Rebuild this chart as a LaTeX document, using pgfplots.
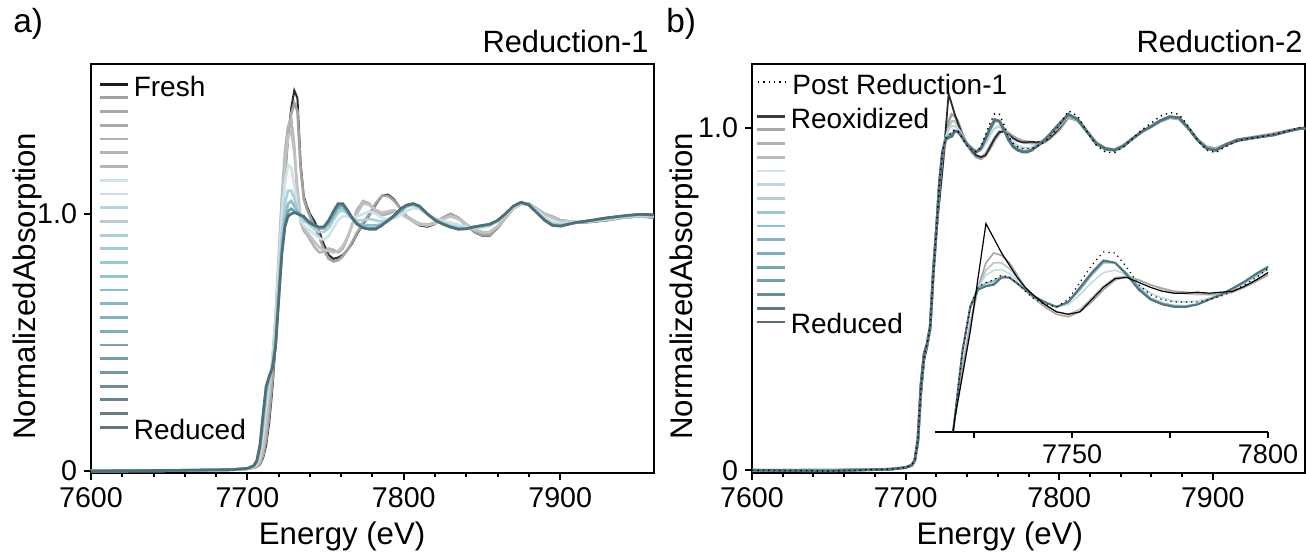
\documentclass[border=0pt]{standalone}
\usepackage{fontspec}
\setmainfont{Liberation Sans}
\usepackage{pgfplots}
\usepackage{pgfplotstable}
\pgfplotsset{compat=1.18}

% curve colours
\definecolor{cA1}{HTML}{2B2B2B}
\definecolor{cA2}{HTML}{A2A2A2}
\definecolor{cA3}{HTML}{B4B4B4}
\definecolor{cA4}{HTML}{C2C2C2}
\definecolor{cA5}{HTML}{CFE3E8}
\definecolor{cA6}{HTML}{AAD2DB}
\definecolor{cA7}{HTML}{8DBFCB}
\definecolor{cA8}{HTML}{6C9DA9}
\definecolor{cA9}{HTML}{4F6E77}
\definecolor{cB1}{HTML}{2B2B2B}
\definecolor{cB2}{HTML}{A6A6A6}
\definecolor{cB3}{HTML}{C2C2C2}
\definecolor{cB4}{HTML}{C0DBE2}
\definecolor{cB5}{HTML}{86B8C4}
\definecolor{cB6}{HTML}{5F93A0}
\definecolor{cB7}{HTML}{56737B}
% legend colours panel a
\definecolor{la1}{HTML}{1E1E1E}
\definecolor{la2}{HTML}{A3A3A3}
\definecolor{la3}{HTML}{A8A8A8}
\definecolor{la4}{HTML}{AAAAAA}
\definecolor{la5}{HTML}{B0B0B0}
\definecolor{la6}{HTML}{B2B2B2}
\definecolor{la7}{HTML}{B5B5B5}
\definecolor{la8}{HTML}{D2E2E6}
\definecolor{la9}{HTML}{CDDDE2}
\definecolor{la10}{HTML}{B3D5DD}
\definecolor{la11}{HTML}{B8CDD2}
\definecolor{la12}{HTML}{A9CFD8}
\definecolor{la13}{HTML}{A2CBD5}
\definecolor{la14}{HTML}{9BC7D1}
\definecolor{la15}{HTML}{94C2CD}
\definecolor{la16}{HTML}{8DBDC9}
\definecolor{la17}{HTML}{86B8C4}
\definecolor{la18}{HTML}{81B2BF}
\definecolor{la19}{HTML}{7EACB9}
\definecolor{la20}{HTML}{7BA5B1}
\definecolor{la21}{HTML}{799EA9}
\definecolor{la22}{HTML}{7696A0}
\definecolor{la23}{HTML}{718C95}
\definecolor{la24}{HTML}{6C848C}
\definecolor{la25}{HTML}{687C83}
\definecolor{la26}{HTML}{66757B}
% legend colours panel b
\definecolor{lb1}{HTML}{3A3A3A}
\definecolor{lb2}{HTML}{A9A9A9}
\definecolor{lb3}{HTML}{B0B0B0}
\definecolor{lb4}{HTML}{BABABA}
\definecolor{lb5}{HTML}{D3E4E8}
\definecolor{lb6}{HTML}{B9D8DF}
\definecolor{lb7}{HTML}{B7CDD2}
\definecolor{lb8}{HTML}{9EC8D2}
\definecolor{lb9}{HTML}{90C0CB}
\definecolor{lb10}{HTML}{82B6C3}
\definecolor{lb11}{HTML}{7AAFBC}
\definecolor{lb12}{HTML}{76A7B4}
\definecolor{lb13}{HTML}{72A0AC}
\definecolor{lb14}{HTML}{6A8E98}
\definecolor{lb15}{HTML}{5F7A82}
\definecolor{lb16}{HTML}{5B6B70}

\pgfplotstableread{
x o1 o1b o2 o2b p1 p2 b1 t1 red
7600 0 0 0 0 0 0 0 0 0
7650 0.002 0.001 0.002 0.001 0.002 0.001 0.002 0.001 0.002
7690 0.004 0.004 0.004 0.004 0.005 0.005 0.005 0.005 0.005
7700 0.008 0.008 0.009 0.009 0.01 0.01 0.01 0.01 0.01
7704 0.012 0.012 0.013 0.014 0.016 0.018 0.019 0.02 0.02
7706 0.016 0.017 0.02 0.022 0.026 0.03 0.035 0.038 0.04
7708 0.025 0.028 0.035 0.04 0.06 0.075 0.085 0.095 0.10
7710 0.05 0.06 0.08 0.09 0.14 0.17 0.19 0.21 0.22
7712 0.10 0.12 0.17 0.19 0.25 0.29 0.31 0.325 0.33
7714 0.19 0.22 0.30 0.31 0.35 0.355 0.36 0.365 0.37
7716 0.32 0.35 0.43 0.43 0.43 0.415 0.405 0.40 0.40
7718 0.49 0.52 0.60 0.59 0.57 0.53 0.50 0.485 0.48
7720 0.71 0.74 0.83 0.81 0.79 0.73 0.69 0.67 0.66
7722 0.94 0.97 1.06 1.03 0.99 0.92 0.87 0.85 0.84
7724 1.14 1.16 1.24 1.20 1.12 1.04 0.98 0.96 0.95
7726 1.30 1.30 1.34 1.30 1.19 1.09 1.04 1.01 0.99
7728 1.41 1.39 1.37 1.32 1.18 1.09 1.05 1.02 1.0
7730 1.48 1.43 1.26 1.24 1.11 1.06 1.03 1.01 1.005
7732 1.45 1.40 1.07 1.10 1.03 1.02 1.01 1.005 1.0
7734 1.20 1.18 0.97 0.99 0.975 0.99 0.995 0.995 0.995
7736 1.07 1.06 0.935 0.95 0.955 0.975 0.985 0.99 0.99
7738 1.03 1.02 0.92 0.93 0.945 0.965 0.975 0.978 0.975
7740 1.0 0.99 0.90 0.915 0.935 0.955 0.965 0.968 0.965
7743 0.97 0.95 0.87 0.89 0.92 0.94 0.952 0.956 0.955
7746 0.93 0.91 0.85 0.87 0.905 0.93 0.943 0.948 0.948
7749 0.88 0.86 0.855 0.86 0.90 0.93 0.943 0.948 0.95
7752 0.84 0.825 0.865 0.855 0.915 0.945 0.96 0.97 0.975
7755 0.825 0.815 0.86 0.85 0.945 0.975 0.99 1.0 1.01
7758 0.83 0.82 0.85 0.855 0.975 1.005 1.02 1.03 1.04
7761 0.84 0.835 0.865 0.875 0.99 1.015 1.025 1.035 1.04
7764 0.86 0.86 0.905 0.91 0.99 1.0 1.005 1.01 1.015
7767 0.885 0.89 0.96 0.955 0.985 0.985 0.982 0.982 0.985
7770 0.92 0.925 1.015 1.0 0.99 0.975 0.965 0.962 0.96
7774 0.96 0.965 1.05 1.04 1.0 0.975 0.955 0.948 0.945
7778 0.995 1.0 1.04 1.035 1.01 0.98 0.955 0.944 0.94
7782 1.035 1.04 1.01 1.015 1.0 0.975 0.955 0.945 0.94
7786 1.07 1.07 0.995 1.005 0.985 0.97 0.96 0.957 0.955
7790 1.075 1.07 1.0 1.01 0.978 0.975 0.972 0.974 0.975
7794 1.055 1.05 1.01 1.015 0.982 0.99 0.99 0.993 0.995
7798 1.02 1.02 1.005 1.0 0.995 1.01 1.012 1.016 1.02
7802 0.99 0.99 0.99 0.985 1.012 1.028 1.03 1.033 1.035
7806 0.97 0.97 0.975 0.97 1.022 1.034 1.037 1.039 1.04
7810 0.955 0.958 0.962 0.96 1.018 1.025 1.028 1.03 1.03
7815 0.95 0.955 0.958 0.955 1.0 1.0 1.0 1.0 1.0
7820 0.96 0.965 0.965 0.962 0.982 0.98 0.978 0.977 0.975
7825 0.985 0.985 0.982 0.98 0.972 0.965 0.962 0.961 0.96
7830 1.0 0.998 0.995 0.99 0.966 0.955 0.951 0.949 0.948
7835 0.985 0.982 0.985 0.98 0.958 0.948 0.943 0.941 0.94
7840 0.955 0.955 0.96 0.958 0.95 0.945 0.943 0.942 0.942
7845 0.93 0.932 0.94 0.938 0.945 0.947 0.948 0.949 0.95
7850 0.915 0.918 0.928 0.93 0.945 0.951 0.953 0.954 0.955
7855 0.915 0.918 0.928 0.93 0.952 0.957 0.958 0.959 0.96
7860 0.945 0.945 0.95 0.952 0.97 0.972 0.973 0.974 0.975
7865 0.985 0.985 0.985 0.988 0.995 0.998 0.999 1.0 1.0
7870 1.02 1.02 1.02 1.02 1.025 1.028 1.029 1.03 1.03
7875 1.04 1.038 1.04 1.04 1.04 1.043 1.044 1.045 1.045
7880 1.04 1.038 1.038 1.036 1.035 1.035 1.035 1.035 1.035
7885 1.02 1.02 1.02 1.018 1.012 1.008 1.006 1.005 1.005
7890 1.0 1.0 1.0 0.998 0.988 0.98 0.978 0.976 0.975
7895 0.99 0.988 0.99 0.985 0.972 0.962 0.958 0.956 0.955
7900 0.975 0.975 0.975 0.972 0.965 0.958 0.955 0.953 0.952
7910 0.965 0.967 0.968 0.968 0.967 0.966 0.966 0.966 0.966
7920 0.968 0.97 0.97 0.972 0.972 0.973 0.974 0.975 0.975
7930 0.975 0.976 0.977 0.978 0.98 0.982 0.983 0.984 0.985
7940 0.985 0.985 0.985 0.986 0.988 0.99 0.991 0.992 0.992
7950 0.99 0.99 0.99 0.992 0.994 0.996 0.997 0.998 0.998
7960 0.985 0.987 0.988 0.99 0.992 0.994 0.995 0.996 0.997
}\tabA

\pgfplotstableread{
x post reox g1 g2 p1 t1 t2 red
7600 0 0 0 0 0 0 0 0
7650 -0.002 0.0 0.001 0.0 -0.001 0.0 -0.002 -0.002
7690 0.003 0.003 0.003 0.003 0.003 0.003 0.003 0.003
7700 0.008 0.008 0.008 0.008 0.008 0.008 0.008 0.008
7704 0.015 0.014 0.014 0.014 0.015 0.015 0.015 0.015
7706 0.03 0.028 0.028 0.028 0.03 0.03 0.03 0.03
7708 0.09 0.08 0.08 0.082 0.088 0.09 0.09 0.09
7710 0.24 0.22 0.23 0.232 0.245 0.25 0.25 0.25
7712 0.33 0.32 0.33 0.33 0.335 0.34 0.34 0.34
7714 0.37 0.36 0.365 0.365 0.368 0.37 0.37 0.37
7716 0.42 0.41 0.415 0.415 0.418 0.42 0.42 0.42
7718 0.57 0.57 0.57 0.57 0.575 0.58 0.58 0.58
7720 0.70 0.70 0.70 0.70 0.705 0.70 0.70 0.70
7722 0.84 0.79 0.80 0.81 0.835 0.84 0.84 0.84
7724 0.93 0.88 0.89 0.90 0.925 0.932 0.93 0.93
7726 0.97 0.99 0.97 0.97 0.97 0.97 0.966 0.965
7728 0.98 1.10 1.02 1.005 0.995 0.978 0.973 0.972
7730 0.985 1.07 1.04 1.02 1.005 0.983 0.977 0.975
7732 0.995 1.04 1.035 1.02 1.006 0.992 0.99 0.99
7734 0.99 1.015 1.02 1.008 0.998 0.99 0.99 0.99
7736 0.978 0.99 0.995 0.99 0.985 0.978 0.978 0.978
7738 0.962 0.97 0.97 0.97 0.968 0.965 0.965 0.965
7740 0.948 0.955 0.95 0.953 0.955 0.953 0.952 0.952
7743 0.935 0.935 0.93 0.935 0.94 0.94 0.94 0.94
7746 0.93 0.92 0.915 0.92 0.93 0.93 0.93 0.93
7749 0.945 0.915 0.91 0.915 0.935 0.94 0.94 0.94
7752 0.98 0.92 0.92 0.925 0.955 0.965 0.968 0.97
7755 1.015 0.945 0.94 0.948 0.98 0.995 0.998 1.0
7758 1.042 0.97 0.965 0.972 1.0 1.02 1.024 1.025
7761 1.04 0.988 0.985 0.99 1.005 1.02 1.02 1.02
7764 1.01 0.99 0.992 0.993 0.995 0.998 0.996 0.995
7767 0.975 0.98 0.985 0.985 0.975 0.97 0.967 0.965
7770 0.955 0.97 0.975 0.975 0.958 0.948 0.946 0.945
7773 0.945 0.962 0.968 0.966 0.948 0.938 0.936 0.935
7776 0.94 0.958 0.962 0.96 0.942 0.933 0.931 0.93
7779 0.94 0.958 0.96 0.957 0.94 0.932 0.93 0.93
7782 0.94 0.96 0.958 0.955 0.942 0.936 0.935 0.935
7785 0.945 0.958 0.955 0.955 0.948 0.946 0.945 0.945
7788 0.952 0.96 0.955 0.957 0.956 0.955 0.955 0.955
7791 0.962 0.962 0.96 0.962 0.966 0.967 0.968 0.968
7794 0.975 0.972 0.97 0.972 0.978 0.98 0.981 0.982
7797 0.99 0.985 0.982 0.985 0.992 0.995 0.997 0.998
7800 1.008 1.0 0.995 0.998 1.006 1.009 1.011 1.012
7806 1.05 1.035 1.03 1.032 1.036 1.038 1.04 1.04
7812 1.035 1.025 1.022 1.022 1.024 1.025 1.025 1.025
7818 0.99 0.99 0.99 0.99 0.99 0.99 0.99 0.99
7824 0.95 0.955 0.958 0.957 0.956 0.955 0.955 0.955
7830 0.93 0.937 0.94 0.94 0.94 0.94 0.94 0.94
7836 0.928 0.935 0.937 0.937 0.936 0.935 0.935 0.935
7842 0.945 0.948 0.95 0.95 0.949 0.948 0.948 0.948
7848 0.97 0.97 0.97 0.97 0.97 0.97 0.97 0.97
7854 0.995 0.99 0.99 0.99 0.99 0.99 0.99 0.99
7860 1.015 1.005 1.004 1.005 1.005 1.005 1.005 1.005
7866 1.035 1.02 1.02 1.02 1.021 1.022 1.022 1.022
7872 1.045 1.03 1.03 1.03 1.031 1.032 1.033 1.033
7878 1.04 1.028 1.026 1.027 1.028 1.029 1.03 1.03
7884 1.005 1.0 1.0 1.0 1.0 1.0 1.0 1.0
7890 0.965 0.965 0.967 0.966 0.966 0.965 0.965 0.965
7896 0.935 0.942 0.945 0.944 0.942 0.941 0.94 0.94
7902 0.928 0.935 0.94 0.938 0.936 0.935 0.935 0.935
7908 0.945 0.948 0.952 0.95 0.95 0.95 0.95 0.95
7916 0.962 0.962 0.966 0.965 0.965 0.965 0.965 0.965
7924 0.97 0.968 0.972 0.97 0.97 0.97 0.97 0.97
7932 0.975 0.974 0.978 0.976 0.975 0.975 0.975 0.975
7940 0.982 0.98 0.984 0.982 0.981 0.98 0.98 0.98
7948 0.99 0.99 0.992 0.99 0.99 0.99 0.99 0.99
7956 1.0 0.998 0.998 0.998 0.998 0.998 0.998 0.998
7960 1.005 1.0 1.0 1.0 1.0 1.0 1.0 1.0
}\tabB

\pgfplotsset{
  lgstyle/.style={
    legend cell align=left,
    legend image code/.code={\draw[##1] (0bp,0bp) -- (14bp,0bp);},
    legend style={draw=none, fill=none, inner sep=0pt, outer sep=0pt,
      row sep=1.95bp, column sep=2bp, anchor=north west,
      font=\fontsize{14bp}{16bp}\selectfont,
      nodes={inner sep=0pt, outer sep=0pt},
      cells={anchor=west}},
  },
  xasstyle/.style={
    scale only axis,
    axis line style={line width=1.2bp},
    tick style={line width=1bp, black},
    tick align=outside,
    xtick pos=bottom, ytick pos=left,
    major tick length=3.5bp, minor tick length=2bp,
    xmin=7600, xmax=7960,
    xtick={7600,7700,7800,7900},
    minor x tick num=4,
    ytick={0,1}, yticklabels={0,1.0},
    /pgf/number format/assume math mode=true,
    /pgf/number format/1000 sep={},
    ticklabel style={font=\fontsize{14.3bp}{16bp}\selectfont},
    label style={font=\fontsize{15.6bp}{18bp}\selectfont},
    xlabel={Energy (eV)},
    ylabel={NormalizedAbsorption},
    lgstyle,
  },
  cur/.style={forget plot, line width=1.3bp, color=#1},
}
% legend text box: caps centred on the key line
\newcommand{\LE}[1]{\raisebox{-5bp}[3.42bp][3.42bp]{#1}}
\newcommand{\LI}[2]{\addlegendimage{color=#1, line width=1.4bp}\addlegendentry{\LE{#2}}}

\begin{document}
\begin{tikzpicture}
\useasboundingbox (0bp,0bp) rectangle (653bp,276bp);

% ---------------- panel a ----------------
\begin{axis}[xasstyle,
  at={(45.5bp,39.5bp)}, anchor=south west,
  width=281.5bp, height=204.5bp,
  ymin=-0.008, ymax=1.583,
  xlabel style={at={(axis description cs:0.446,0)}, anchor=base, yshift=-35.75bp},
  ylabel style={at={(axis description cs:-0.0988,0.457)}, anchor=base},
  legend style={at={(axis description cs:0.0142,0.9628)}},
]
\addplot[cur=cA1, line width=1bp] table[x=x,y=o1]{\tabA};
\addplot[cur=cA2] table[x=x,y=o1b]{\tabA};
\addplot[cur=cA3] table[x=x,y=o2]{\tabA};
\addplot[cur=cA4] table[x=x,y=o2b]{\tabA};
\addplot[cur=cA5] table[x=x,y=p1]{\tabA};
\addplot[cur=cA6] table[x=x,y=p2]{\tabA};
\addplot[cur=cA7] table[x=x,y=b1]{\tabA};
\addplot[cur=cA8] table[x=x,y=t1]{\tabA};
\addplot[cur=cA9] table[x=x,y=red]{\tabA};
\LI{la1}{Fresh}
\LI{la2}{}\LI{la3}{}\LI{la4}{}\LI{la5}{}
\LI{la6}{}\LI{la7}{}\LI{la8}{}\LI{la9}{}
\LI{la10}{}\LI{la11}{}\LI{la12}{}\LI{la13}{}
\LI{la14}{}\LI{la15}{}\LI{la16}{}\LI{la17}{}
\LI{la18}{}\LI{la19}{}\LI{la20}{}\LI{la21}{}
\LI{la22}{}\LI{la23}{}\LI{la24}{}\LI{la25}{}
\LI{la26}{Reduced}
\end{axis}

% ---------------- panel b ----------------
\begin{axis}[xasstyle,
  at={(376bp,39.5bp)}, anchor=south west,
  width=276.5bp, height=204.5bp,
  ymin=-0.008, ymax=1.187,
  xlabel style={at={(axis description cs:0.448,0)}, anchor=base, yshift=-35.75bp},
  ylabel style={at={(axis description cs:-0.1072,0.457)}, anchor=base},
  legend style={at={(axis description cs:0.0072,0.8846)}},
]
\addplot[cur=cB3] table[x=x,y=g2]{\tabB};
\addplot[cur=cB2] table[x=x,y=g1]{\tabB};
\addplot[cur=cB1, line width=0.9bp] table[x=x,y=reox]{\tabB};
\addplot[cur=cB4] table[x=x,y=p1]{\tabB};
\addplot[cur=cB5] table[x=x,y=t1]{\tabB};
\addplot[cur=cB6] table[x=x,y=t2]{\tabB};
\addplot[cur=cB7] table[x=x,y=red]{\tabB};
\addplot[cur=black, line width=0.7bp, dotted] table[x=x,y=post]{\tabB};
\LI{lb1}{Reoxidized}
\LI{lb2}{}\LI{lb3}{}\LI{lb4}{}\LI{lb5}{}
\LI{lb6}{}\LI{lb7}{}\LI{lb8}{}\LI{lb9}{}
\LI{lb10}{}\LI{lb11}{}\LI{lb12}{}\LI{lb13}{}
\LI{lb14}{}\LI{lb15}{}
\LI{lb16}{Reduced}
\end{axis}

% ---------------- inset in panel b ----------------
\begin{axis}[lgstyle,
  at={(467.5bp,60bp)}, anchor=south west, scale only axis,
  width=166.5bp, height=116bp,
  xmin=7715, xmax=7800, ymin=0.675, ymax=1.148,
  axis x line=bottom, axis y line=none,
  x axis line style={-, line width=1.2bp},
  xtick={7750,7800}, minor xtick={7725,7775},
  tick align=outside, major tick length=3bp, minor tick length=3bp,
  tick style={line width=1bp, black},
  /pgf/number format/assume math mode=true,
  /pgf/number format/1000 sep={},
  ticklabel style={font=\fontsize{13.5bp}{15bp}\selectfont},
  legend style={at={(axis description cs:-0.5345,1.529)}, column sep=3bp},
]
\addplot[cur=cB3, line width=0.8bp] table[x=x,y=g2]{\tabB};
\addplot[cur=cB2, line width=0.8bp] table[x=x,y=g1]{\tabB};
\addplot[cur=cB4, line width=0.8bp] table[x=x,y=p1]{\tabB};
\addplot[cur=cB5, line width=0.9bp] table[x=x,y=t1]{\tabB};
\addplot[cur=cB6, line width=0.9bp] table[x=x,y=t2]{\tabB};
\addplot[cur=cB7, line width=0.9bp] table[x=x,y=red]{\tabB};
\addplot[cur=black, line width=0.6bp] table[x=x,y=reox]{\tabB};
\addplot[cur=black, line width=0.6bp, dotted] table[x=x,y=post]{\tabB};
\addlegendimage{black, line width=0.7bp, dotted}
\addlegendentry{\LE{Post Reduction-1}}
\end{axis}

% panel letters and titles
\node[anchor=base west, inner sep=0pt, font=\fontsize{16.7bp}{19bp}\selectfont] at (6.5bp,259.5bp) {a)};
\node[anchor=base west, inner sep=0pt, font=\fontsize{16.7bp}{19bp}\selectfont] at (333bp,259.5bp) {b)};
\node[anchor=base east, inner sep=0pt, font=\fontsize{15.4bp}{18bp}\selectfont] at (324.5bp,249.5bp) {Reduction-1};
\node[anchor=base east, inner sep=0pt, font=\fontsize{15.4bp}{18bp}\selectfont] at (651.5bp,249.5bp) {Reduction-2};
\end{tikzpicture}
\end{document}
